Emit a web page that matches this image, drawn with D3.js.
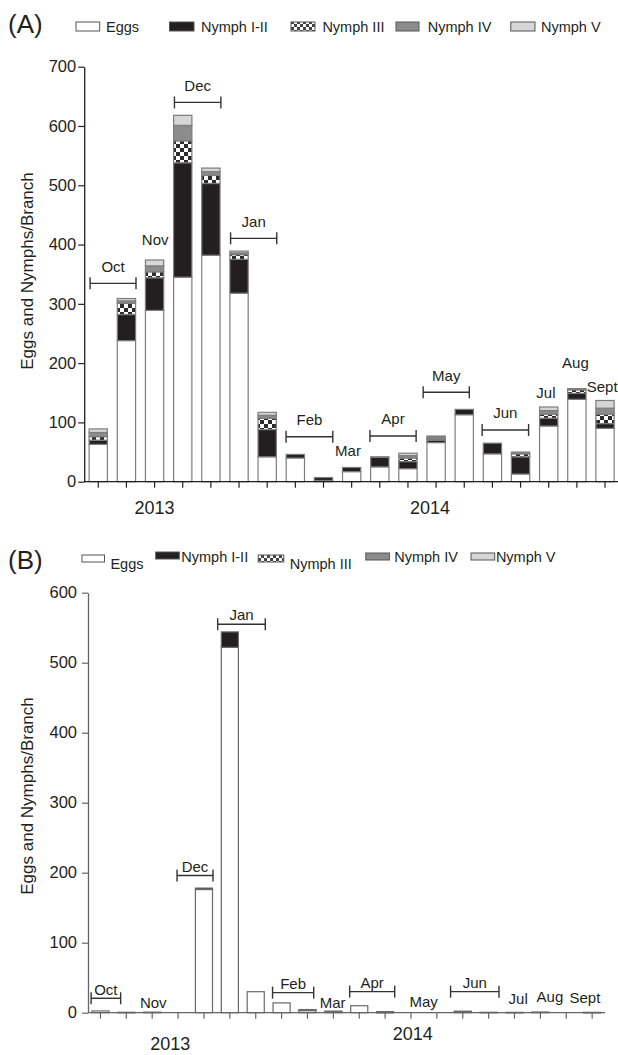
<!DOCTYPE html>
<html><head><meta charset="utf-8">
<script src="https://cdn.jsdelivr.net/npm/d3@7"></script>
<style>
body{margin:0;background:#fff;}
svg{display:block;}
text{font-family:"Liberation Sans",Arial,Helvetica,sans-serif;fill:#231f20;}
</style>
</head><body>
<svg id="chart" width="618" height="1055"></svg>
<script>
// ---------- shared ----------
const seriesKeys  = ["eggs","nymph12","nymph3","nymph4","nymph5"];
const seriesNames = ["Eggs","Nymph I-II","Nymph III","Nymph IV","Nymph V"];
const yearLabels  = ["2013","2014"];
const monthNames  = ["Oct","Nov","Dec","Jan","Feb","Mar","Apr","May","Jun","Jul","Aug","Sept"];
const yTitle = "Eggs and Nymphs/Branch";

// ---------- panel A ----------
const samplesA  = ["Oct","Oct","Nov","Dec","Dec","Jan","Jan","Feb","Feb","Mar","Apr","Apr","May","May","Jun","Jun","Jul","Aug","Sept"];
const eggsA     = [63,238,289,345,382,318,42,40,2,17,25,22,66,113,47,13,94,139,90];
const nymph12A  = [7,44,55,193,121,57,46,6,5,7,16,12,4,9,18,29,13,10,8];
const nymph3A   = [6,19,10,37,14,8,19,0,0,0,1,6,2,0,0,5,7,6,16];
const nymph4A   = [7,4,10,26,6,3,5,0,0,0,0,4,3,0,0,3,6,2,10];
const nymph5A   = [6,4,10,17,6,3,5,0,0,0,0,4,2,0,0,0,6,0,13];
const yTicksA   = [0,100,200,300,400,500,600,700];
// month annotations: centre (in sample units), half-span of bracket (0 = no bracket), height (data units)
const monthCenterA = [1.025,2.52,4.03,6.02,8.0,9.37,10.97,12.86,14.96,16.4,17.45,18.4];
const monthSpanA   = [0.815,0,0.825,0.82,0.83,0,0.82,0.82,0.825,0,0,0];
const monthLevelA  = [334.6,407.6,639.8,410.5,75.9,51.8,77,150.8,87.2,149.6,200,161];
const yearCenterA  = [2.5,12.28];

// ---------- panel B ----------
const samplesB  = ["Oct","Oct","Nov","Nov","Dec","Jan","Jan","Feb","Feb","Mar","Apr","Apr","May","May","Jun","Jun","Jul","Aug","Sept","Sept"];
const eggsB     = [2.5,0.6,0.8,0,176,522,30,14,3,1.5,10,0.5,0,0,1,0.6,0.5,0,0,0.5];
const nymph12B  = [0,0,0,0,2,22,0,0,1.5,0,0,1,0,0,0,0,0,1,0,0];
const nymph3B   = [0,0,0,0,0,0,0,0,0,0,0,0,0,0,0,0,0,0,0,0];
const nymph4B   = [0,0,0,0,0,0,0,0,0,0.8,0,0,0,0,1.2,0,0,0,0,0];
const nymph5B   = [0,0,0,0,0,0,0,0,0,0,0,0,0,0,0,0,0,0,0,0];
const yTicksB   = [0,100,200,300,400,500,600];
const monthCenterB = [0.71,2.54,4.155,5.95,7.945,9.47,11.0,12.99,14.965,16.64,17.87,19.22];
const monthSpanB   = [0.57,0,0.695,0.92,0.795,0,0.87,0,0.935,0,0,0];
const monthLevelB  = [20.6,14.4,196,555,28.7,14.4,30.1,15.3,30.1,20.1,23,22];
const yearCenterB  = [3.2,12.57];

// ---------- drawing ----------
const svg = d3.select("#chart");
const defs = svg.append("defs");
const pat = defs.append("pattern").attr("id","checker").attr("patternUnits","userSpaceOnUse")
  .attr("width",8).attr("height",8);
pat.append("rect").attr("width",8).attr("height",8).attr("fill","#fff");
pat.append("rect").attr("width",4).attr("height",4).attr("fill","#2b2b2b");
pat.append("rect").attr("x",4).attr("y",4).attr("width",4).attr("height",4).attr("fill","#2b2b2b");
const patS = defs.append("pattern").attr("id","checkerS").attr("patternUnits","userSpaceOnUse")
  .attr("width",6).attr("height",6);
patS.append("rect").attr("width",6).attr("height",6).attr("fill","#fff");
patS.append("rect").attr("width",3).attr("height",3).attr("fill","#444");
patS.append("rect").attr("x",3).attr("y",3).attr("width",3).attr("height",3).attr("fill","#444");

const fills = {eggs:"#ffffff", nymph12:"#231f20", nymph3:"url(#checker)", nymph4:"#8c8c8c", nymph5:"#d6d6d6"};
const swatchFills = {eggs:"#ffffff", nymph12:"#231f20", nymph3:"url(#checkerS)", nymph4:"#8c8c8c", nymph5:"#d6d6d6"};

function drawPanel(cfg){
  const n = cfg.samples.length;
  const rows = cfg.samples.map((s,i)=>({
    i, sample:s,
    eggs:cfg.series[0][i], nymph12:cfg.series[1][i], nymph3:cfg.series[2][i],
    nymph4:cfg.series[3][i], nymph5:cfg.series[4][i]
  }));
  const x = d3.scaleBand().domain(d3.range(n)).range(cfg.xRange)
    .paddingInner(cfg.pad).paddingOuter(cfg.pad/2);
  const xu = d3.scaleLinear().domain([0,n]).range(cfg.xRange);
  const y = d3.scaleLinear().domain([0,cfg.yTicks[cfg.yTicks.length-1]]).range(cfg.yRange);
  const g = svg.append("g");

  const stacked = d3.stack().keys(seriesKeys)(rows);
  stacked.forEach(layer=>{
    g.append("g").selectAll("rect").data(layer.filter(d=>d[1]-d[0]>0)).join("rect")
      .attr("x",d=>x(d.data.i))
      .attr("width",x.bandwidth())
      .attr("y",d=>y(d[1]))
      .attr("height",d=>Math.max(0.6,y(d[0])-y(d[1])))
      .attr("fill",fills[layer.key])
      .attr("stroke",cfg.barStroke).attr("stroke-width",1.2);
  });

  // axes
  const yAxis = g.append("g").attr("transform",`translate(${cfg.yAxisX},0)`)
    .call(d3.axisLeft(y).tickValues(cfg.yTicks).tickSize(6).tickSizeOuter(0).tickPadding(cfg.tickPad));
  yAxis.select(".domain").attr("stroke",cfg.axisColor).attr("stroke-width",1.3);
  yAxis.selectAll(".tick line").attr("stroke",cfg.axisColor).attr("stroke-width",1.2);
  yAxis.selectAll(".tick text").attr("font-size",16.5).attr("font-family","Liberation Sans, Arial, sans-serif").attr("fill","#231f20");

  const xAxis = g.append("g").attr("transform",`translate(0,${cfg.yRange[0]})`)
    .call(d3.axisBottom(x).tickSize(6).tickSizeOuter(0).tickFormat(""));
  xAxis.select(".domain").attr("stroke",cfg.axisColor).attr("stroke-width",1.3)
    .attr("d",`M${cfg.yAxisX},0H${cfg.xRange[1]}`);
  xAxis.selectAll(".tick line").attr("stroke",cfg.axisColor).attr("stroke-width",1.2);

  // y title
  g.append("text")
    .attr("transform",`translate(${cfg.titleX},${cfg.titleY}) rotate(-90)`)
    .attr("text-anchor","middle").attr("dy","0.35em")
    .attr("font-size",17).text(yTitle);

  // years
  cfg.yearCenter.forEach((u,k)=>{
    g.append("text").attr("x",xu(u)).attr("y",cfg.yearY[k])
      .attr("text-anchor","middle").attr("dy","0.35em").attr("font-size",18).text(yearLabels[k]);
  });

  // month annotations
  monthNames.forEach((m,k)=>{
    const cx = xu(cfg.monthCenter[k]);
    const yy = y(cfg.monthLevel[k]);
    const span = cfg.monthSpan[k];
    let ty = yy;
    if(span>0){
      const x0 = xu(cfg.monthCenter[k]-span), x1 = xu(cfg.monthCenter[k]+span);
      const bg = g.append("g").attr("stroke",cfg.bracketColor).attr("stroke-width",1.4);
      bg.append("line").attr("x1",x0).attr("x2",x1).attr("y1",yy).attr("y2",yy);
      bg.append("line").attr("x1",x0).attr("x2",x0).attr("y1",yy-6).attr("y2",yy+6);
      bg.append("line").attr("x1",x1).attr("x2",x1).attr("y1",yy-6).attr("y2",yy+6);
      ty = yy - cfg.labelGap;
    }
    g.append("text").attr("x",cx).attr("y",ty).attr("text-anchor","middle")
      .attr("dy","0.35em").attr("font-size",15).text(m);
  });

  // panel letter
  svg.append("text").attr("x",8).attr("y",cfg.letterY).attr("font-size",26).text(cfg.letter);

  // legend
  seriesKeys.forEach((k,j)=>{
    const L = cfg.legend[j];
    svg.append("rect").attr("x",L[0]).attr("y",L[1]).attr("width",L[2]-L[0]).attr("height",cfg.swH)
      .attr("fill",swatchFills[k]).attr("stroke","#555").attr("stroke-width",1);
    svg.append("text").attr("x",L[3]).attr("y",L[4]).attr("font-size",14.5).text(seriesNames[j]);
  });
}

drawPanel({
  samples:samplesA, series:[eggsA,nymph12A,nymph3A,nymph4A,nymph5A], yTicks:yTicksA,
  xRange:[84.2,619.1], yRange:[481.7,66.7], pad:0.35, yAxisX:84.2, tickPad:2,
  axisColor:"#231f20", barStroke:"#7d7d7d", bracketColor:"#333",
  titleX:27, titleY:271, yearCenter:yearCenterA, yearY:[507.8,507.8],
  monthCenter:monthCenterA, monthSpan:monthSpanA, monthLevel:monthLevelA, labelGap:17,
  letter:"(A)", letterY:33, swH:9,
  legend:[[76,22,99.7,106,31.5],[169.5,22,194,201,31.5],[291,22,315,322.4,31.5],[396,22,419,427.7,31.5],[510.8,22,535,541,31.5]]
});
drawPanel({
  samples:samplesB, series:[eggsB,nymph12B,nymph3B,nymph4B,nymph5B], yTicks:yTicksB,
  xRange:[87.5,605.1], yRange:[1012.7,592.7], pad:0.34, yAxisX:88, tickPad:5,
  axisColor:"#666", barStroke:"#6a6a6a", bracketColor:"#333",
  titleX:27, titleY:796, yearCenter:yearCenterB, yearY:[1044,1033.5],
  monthCenter:monthCenterB, monthSpan:monthSpanB, monthLevel:monthLevelB, labelGap:9,
  letter:"(B)", letterY:569, swH:7,
  legend:[[82,555,104.5,110.4,569],[155.7,552,179.3,181.3,562],[258.2,555,283.8,289.7,569],[365.8,553,389.4,394.2,562],[471,553,494.7,495.9,562]]
});
</script>
</body></html>
